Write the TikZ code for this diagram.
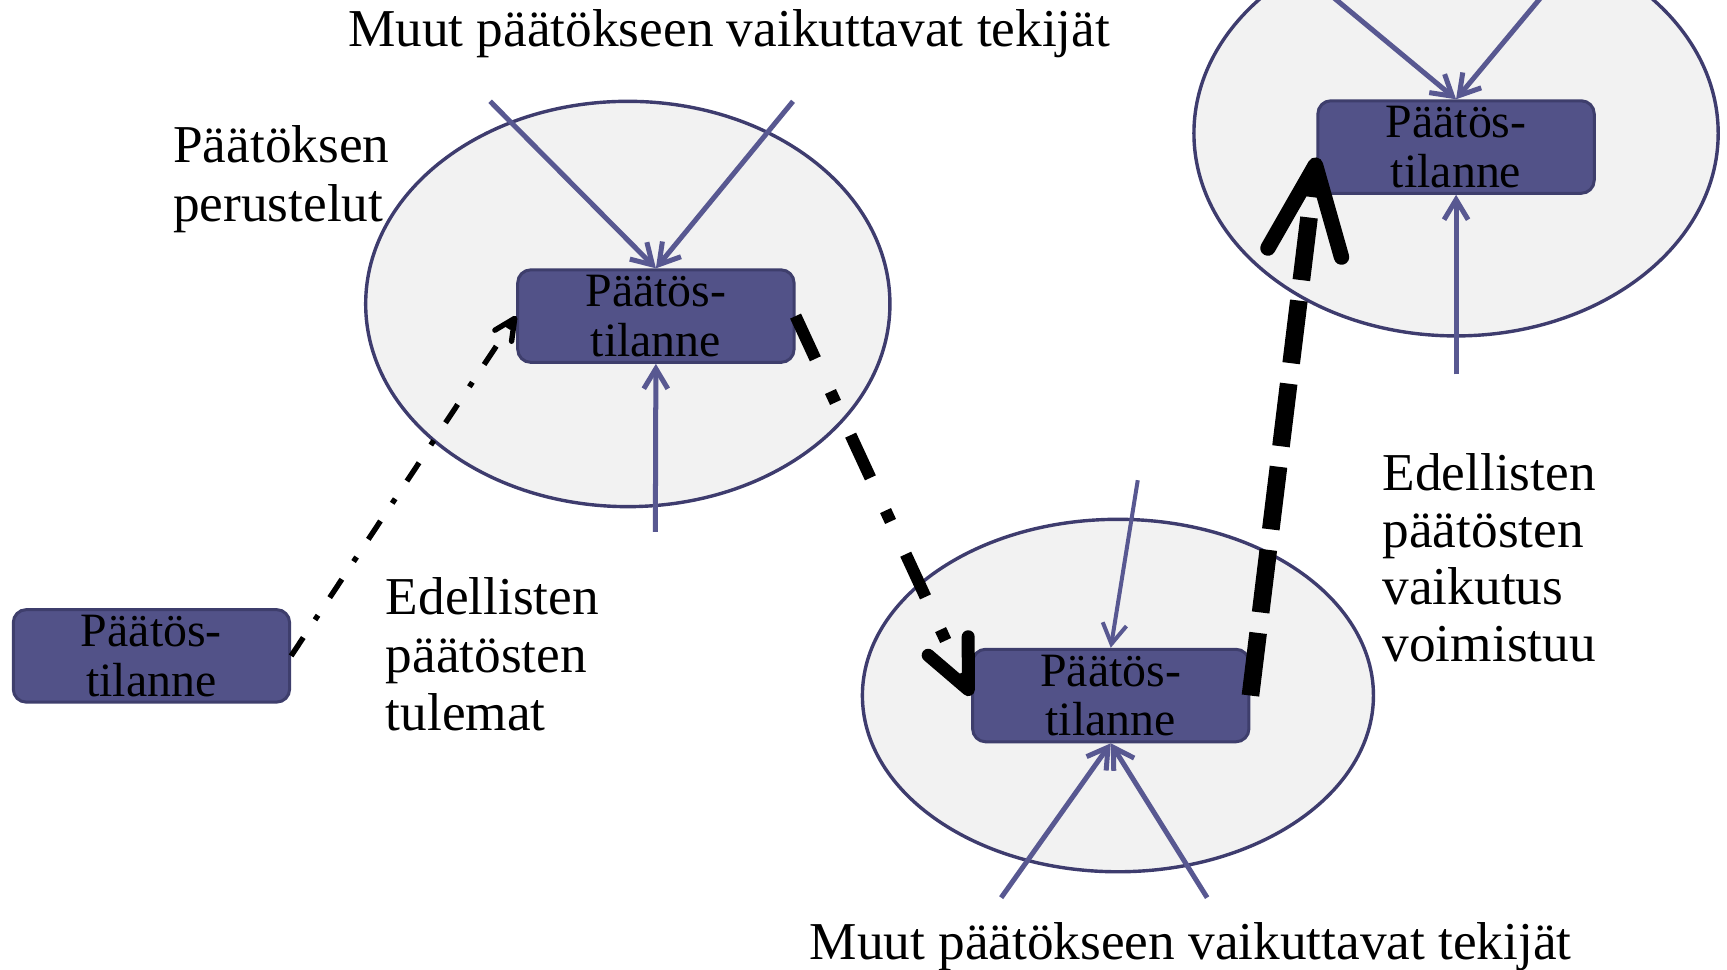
\documentclass[tikz,border=0pt]{standalone}
\usepackage{fontspec}
\setmainfont{Liberation Serif}
\usetikzlibrary{arrows.meta}
\definecolor{ellfill}{RGB}{242,242,242}
\definecolor{ellstroke}{RGB}{62,60,110}
\definecolor{boxfill}{RGB}{82,82,136}
\definecolor{boxborder}{RGB}{62,62,108}
\definecolor{arrowblue}{RGB}{88,88,145}
\newcommand{\myboxfont}{\fontsize{23.9pt}{24.75pt}\selectfont}
\begin{document}
\begin{tikzpicture}[x=0.55pt,y=-0.55pt,
  ell/.style={draw=ellstroke, fill=ellfill, line width=1.7pt},
  box/.style={draw=boxborder, fill=boxfill, rounded corners=6.5pt, line width=1.5pt,
    minimum width=138pt, minimum height=46.2pt, inner sep=0pt, align=center, font=\myboxfont},
  inarrow/.style={draw=arrowblue, line width=2.5pt, -{Straight Barb[length=10pt,width=12pt]}},
  thinarrow/.style={inarrow, line width=2pt},
  lbl/.style={inner sep=0pt, align=left, anchor=north west},
  lblline/.style={inner sep=0pt, anchor=base, font=\fontsize{26.6pt}{29pt}\selectfont},
  conA/.style={draw=black, line width=2.7pt, dash pattern=on 11pt off 10.6pt on 2.7pt off 10.6pt,
    -{Straight Barb[length=10.4pt,width=10pt,line width=2.7pt,round]}},
  conB/.style={draw=black, line width=6pt, dash pattern=on 23.5pt off 18pt on 6pt off 18pt,
    -{Straight Barb[length=24pt,width=22pt,line width=6.5pt,round]}},
  conC/.style={draw=black, line width=8.8pt, dash pattern=on 31.5pt off 10.3pt,
    -{Straight Barb[length=44pt,width=37pt,line width=7.7pt,round]}}
]
\path[use as bounding box] (0,0) rectangle (1568,880);
\clip (0,0) rectangle (1568,880);

% ellipses
\draw[ell] (570,276) ellipse [x radius=130.9pt, y radius=101.2pt];
\draw[ell] (1322,121) ellipse [x radius=130.9pt, y radius=101.2pt];
\draw[ell] (1015,631.5) ellipse [x radius=127.6pt, y radius=88pt];

% boxes
\node[box] (b0) at (137.5,595.5) {Päätös-\\tilanne};
\node[box] (b1) at (595.5,287) {Päätös-\\tilanne};
\node[box] (b2) at (1322,133.5) {Päätös-\\tilanne};
\node[box] (b3) at (1008.5,631.5) {Päätös-\\tilanne};

% free ends of the influence arrows
\coordinate (t1l) at (445,92);
\coordinate (t1r) at (720,92);
\coordinate (u1) at (595,483);
\coordinate (t2l) at (1140,-61);
\coordinate (t2r) at (1448,-61);
\coordinate (u2) at (1322,340);
\coordinate (t3) at (1033,436);
\coordinate (d3l) at (909,815);
\coordinate (d3r) at (1096,815);

\draw[inarrow] (t1l) -- (b1.north);
\draw[inarrow] (t1r) -- (b1.north);
\draw[inarrow] (u1) -- (b1.south);
\draw[inarrow] (t2l) -- (b2.north);
\draw[inarrow] (t2r) -- (b2.north);
\draw[inarrow] (u2) -- (b2.south);
\draw[thinarrow] (t3) -- (b3.north);
\draw[inarrow] (d3l) -- (b3.south);
\draw[inarrow] (d3r) -- (b3.south);

% connectors between decision situations
\draw[conA] (b0.east) -- (b1.west);
\draw[conB] (b1.east) -- (b3.west);
\draw[conC] (b3.east) -- ([yshift=-5.2pt]b2.west);

% labels
\node[lblline] (ttop) at (662,42.4) {Muut päätökseen vaikuttavat tekijät};
\node[lblline] (tbot) at (1081,871) {Muut päätökseen vaikuttavat tekijät};
\node[lbl, font=\fontsize{26.6pt}{29.2pt}\selectfont] (tper) at (157,114) {Päätöksen\\perustelut};
\node[lbl, font=\fontsize{26.6pt}{29pt}\selectfont] (ttul) at (350,524) {Edellisten\\päätösten\\tulemat};
\node[lbl, font=\fontsize{26.6pt}{28.6pt}\selectfont] (tvoi) at (1255,411) {Edellisten\\päätösten\\vaikutus\\voimistuu};
\end{tikzpicture}
\end{document}
